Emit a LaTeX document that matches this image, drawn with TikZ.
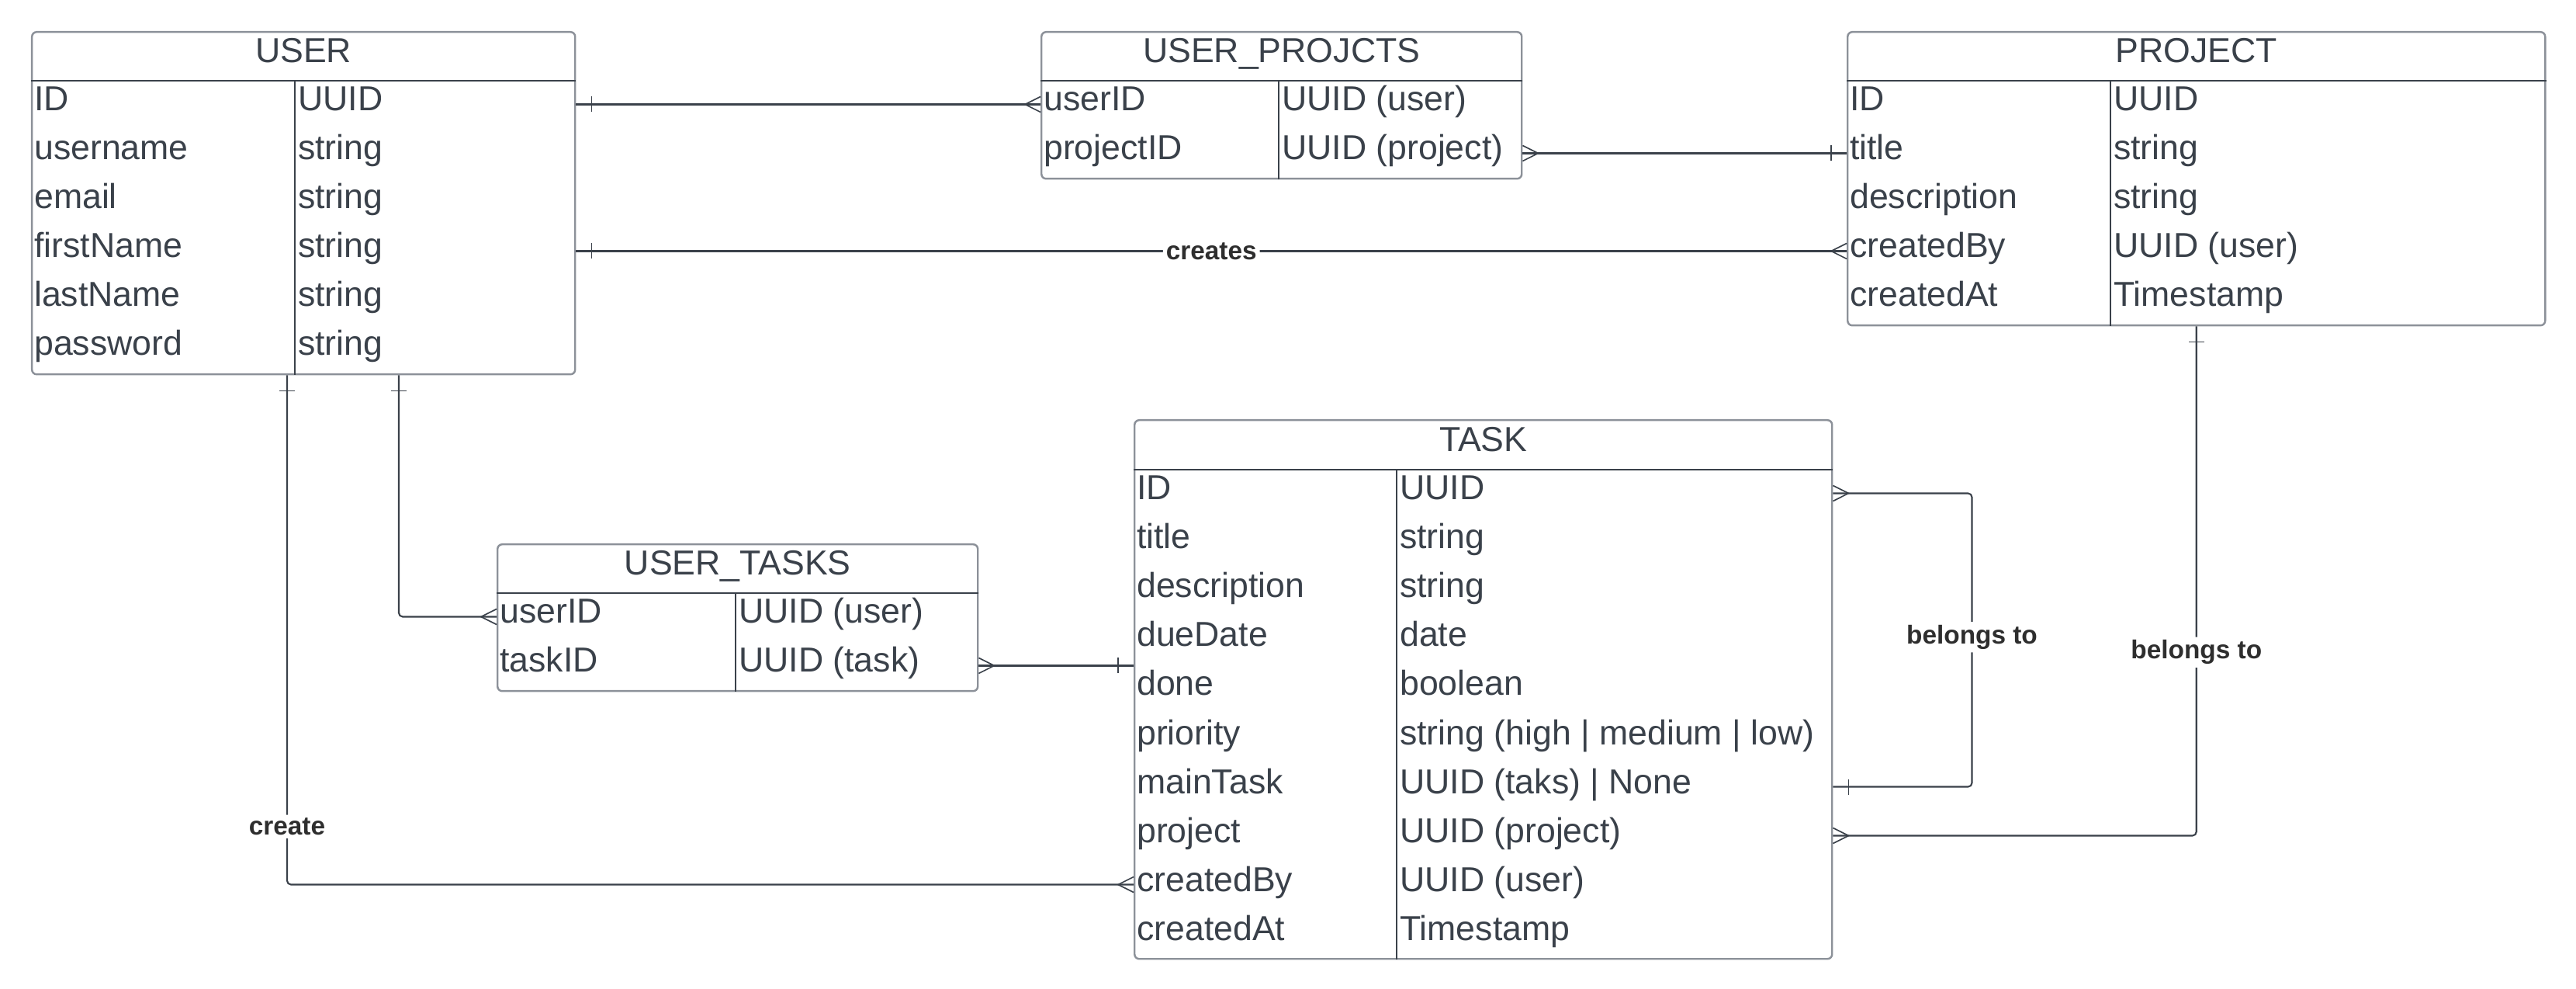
\documentclass[tikz,border=0pt]{standalone}
\usepackage{fontspec}
\setmainfont{Liberation Sans}
\usepackage{tikz}
\usetikzlibrary{positioning}

\definecolor{ink}{HTML}{3A414A}
\definecolor{rim}{HTML}{8C9199}
\definecolor{lbltext}{HTML}{2E2E2E}

\tikzset{
  tbl/.style={draw=rim, line width=0.7pt, rounded corners=0.06cm, anchor=north west, inner sep=0},
  ttl/.style={text=ink, font=\fontsize{12.7}{14}\selectfont, inner sep=0, text height=0.32cm, text depth=0.15cm, minimum height=0.63cm},
  fld/.style={ttl, anchor=west, inner xsep=0.035cm},
  rule/.style={draw=ink, line width=0.6pt},
  split/.style={draw=ink, line width=0.4pt},
  conn/.style={draw=ink, line width=0.6pt, rounded corners=0.05cm},
  foot/.style={draw=ink, line width=0.45pt, sharp corners},
  lbl/.style={fill=white, text=lbltext, font=\fontsize{9.5}{11}\selectfont\bfseries, inner sep=0.04cm},
  onemark/.pic={\draw[foot] (-0.2,-0.1) -- (-0.2,0.1);},
  manymark/.pic={\draw[foot] (0,0.1) -- (-0.2,0) -- (0,-0.1);},
}

\begin{document}
\begin{tikzpicture}
    \useasboundingbox (0,0) rectangle (33.20,12.73);

    % USER
    \node[tbl, minimum width=7cm, minimum height=4.41cm] (user) at (0.40,12.33) {};
    \node[ttl, below=0cm of user.north] (user-t) {USER};
    \foreach \nm/\fd/\ty [count=\i] in {id/ID/UUID, username/username/string, email/email/string,
        firstname/firstName/string, lastname/lastName/string, password/password/string}{
      \node[fld] (user-\nm) at (0.40,12.015-0.63*\i) {\fd};
      \node[fld] (user-\nm-type) at (3.80,12.015-0.63*\i) {\ty};
    }
    \draw[rule] (user-t.south -| user.west) -- (user-t.south -| user.east);
    \draw[split] (user-t.south -| user-id-type.west) -- (user.south -| user-id-type.west);

    % USER_PROJCTS
    \node[tbl, minimum width=6.19cm, minimum height=1.89cm] (up) at (13.41,12.33) {};
    \node[ttl, below=0cm of up.north] (up-t) {USER\_PROJCTS};
    \foreach \nm/\fd/\ty [count=\i] in {userid/userID/UUID (user), projectid/projectID/UUID (project)}{
      \node[fld] (up-\nm) at (13.41,12.015-0.63*\i) {\fd};
      \node[fld] (up-\nm-type) at (16.48,12.015-0.63*\i) {\ty};
    }
    \draw[rule] (up-t.south -| up.west) -- (up-t.south -| up.east);
    \draw[split] (up-t.south -| up-userid-type.west) -- (up.south -| up-userid-type.west);

    % PROJECT
    \node[tbl, minimum width=8.99cm, minimum height=3.78cm] (project) at (23.80,12.33) {};
    \node[ttl, below=0cm of project.north] (project-t) {PROJECT};
    \foreach \nm/\fd/\ty [count=\i] in {id/ID/UUID, title/title/string, description/description/string,
        createdby/createdBy/UUID (user), createdat/createdAt/Timestamp}{
      \node[fld] (project-\nm) at (23.80,12.015-0.63*\i) {\fd};
      \node[fld] (project-\nm-type) at (27.20,12.015-0.63*\i) {\ty};
    }
    \draw[rule] (project-t.south -| project.west) -- (project-t.south -| project.east);
    \draw[split] (project-t.south -| project-id-type.west) -- (project.south -| project-id-type.west);

    % TASK
    \node[tbl, minimum width=8.99cm, minimum height=6.94cm] (task) at (14.61,7.33) {};
    \node[ttl, minimum height=0.64cm, below=0cm of task.north] (task-t) {TASK};
    \foreach \nm/\fd/\ty [count=\i] in {id/ID/UUID, title/title/string, description/description/string,
        duedate/dueDate/date, done/done/boolean, priority/priority/string (high | medium | low),
        maintask/mainTask/UUID (taks) | None, project/project/UUID (project),
        createdby/createdBy/UUID (user), createdat/createdAt/Timestamp}{
      \node[fld] (task-\nm) at (14.61,7.005-0.63*\i) {\fd};
      \node[fld] (task-\nm-type) at (18.00,7.005-0.63*\i) {\ty};
    }
    \draw[rule] (task-t.south -| task.west) -- (task-t.south -| task.east);
    \draw[split] (task-t.south -| task-id-type.west) -- (task.south -| task-id-type.west);

    % USER_TASKS
    \node[tbl, minimum width=6.19cm, minimum height=1.89cm] (ut) at (6.40,5.73) {};
    \node[ttl, below=0cm of ut.north] (ut-t) {USER\_TASKS};
    \foreach \nm/\fd/\ty [count=\i] in {userid/userID/UUID (user), taskid/taskID/UUID (task)}{
      \node[fld] (ut-\nm) at (6.40,5.415-0.63*\i) {\fd};
      \node[fld] (ut-\nm-type) at (9.48,5.415-0.63*\i) {\ty};
    }
    \draw[rule] (ut-t.south -| ut.west) -- (ut-t.south -| ut.east);
    \draw[split] (ut-t.south -| ut-userid-type.west) -- (ut.south -| ut-userid-type.west);

    % relations
    \draw[conn] (user.east |- user-id) pic[rotate=180]{onemark} -- (up.west |- up-userid) pic{manymark};
    \draw[conn] (up.east |- up-projectid) pic[rotate=180]{manymark} -- (project.west |- project-title) pic{onemark};
    \draw[conn] (user.east |- user-firstname) pic[rotate=180]{onemark}
        -- node[lbl]{creates} (project.west |- project-createdby) pic{manymark};
    \draw[conn] ([xshift=3.30cm]user.south west) pic[rotate=90]{onemark}
        |- node[lbl, pos=0.443]{create} (task.west |- task-createdby) pic{manymark};
    \draw[conn] ([xshift=4.74cm]user.south west) pic[rotate=90]{onemark}
        |- (ut.west |- ut-userid) pic{manymark};
    \draw[conn] (ut.east |- ut-taskid) pic[rotate=180]{manymark} -- (task.west |- ut-taskid) pic{onemark};
    \draw[conn] (task.east |- task-id) pic[rotate=180]{manymark} -- ++(1.79,0)
        |- node[lbl, pos=0.245]{belongs to} (task.east |- task-maintask) pic[rotate=180]{onemark};
    \draw[conn] (project.south) pic[rotate=90]{onemark}
        |- node[lbl, pos=0.32]{belongs to} (task.east |- task-project) pic[rotate=180]{manymark};
\end{tikzpicture}
\end{document}
